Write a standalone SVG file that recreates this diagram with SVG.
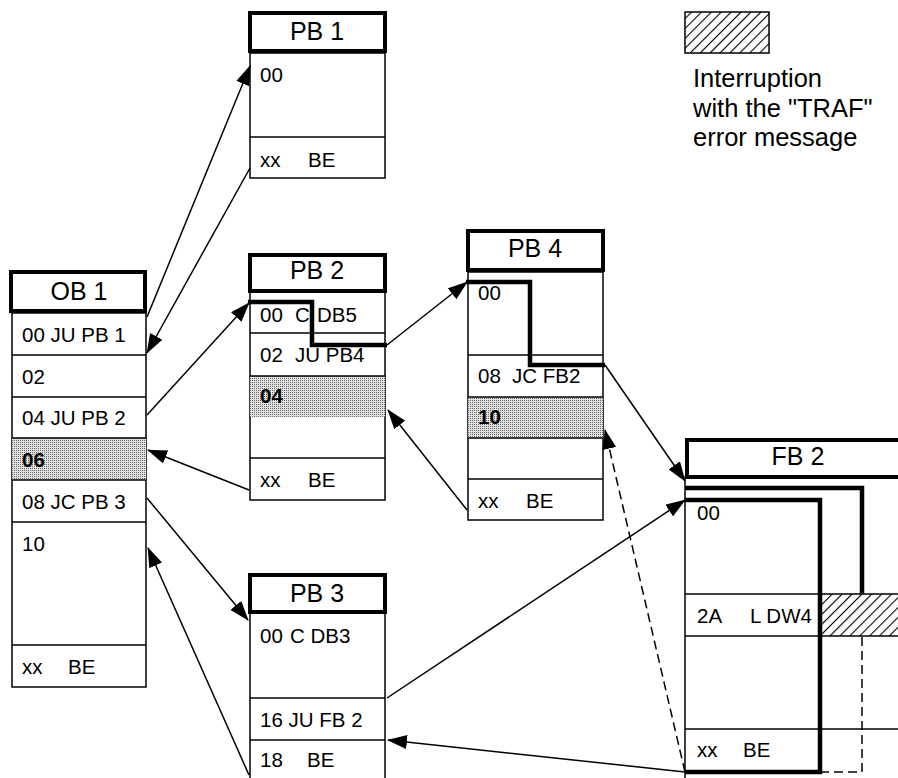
<svg xmlns="http://www.w3.org/2000/svg" width="898" height="778" viewBox="0 0 898 778">
<style>
.hdr{fill:#fff;stroke:#000;stroke-width:4}
.body{fill:#fff;stroke:#000;stroke-width:1.5}
.row{stroke:#000;stroke-width:1.5}
.thick{fill:none;stroke:#000;stroke-width:4.5;stroke-linejoin:miter}
.con{fill:none;stroke:#000;stroke-width:1.5}
.dash{stroke-dasharray:9 5}
text{font-family:"Liberation Sans",Arial,sans-serif;fill:#000}
.t{font-size:20.5px}
.h{font-size:25px;text-anchor:middle}
.b{font-weight:bold}
.lg{font-size:25.5px}
</style>
<defs>
<pattern id="dots" width="2" height="2" patternUnits="userSpaceOnUse">
<rect width="2" height="2" fill="#e0e0e0"/>
<rect width="1" height="1" fill="#6a6a6a"/>
</pattern>
<pattern id="hatch" width="7" height="7" patternUnits="userSpaceOnUse" patternTransform="rotate(45)">
<rect width="7" height="7" fill="#fff"/>
<line x1="0" y1="0" x2="0" y2="7" stroke="#000" stroke-width="2.2"/>
</pattern>
<marker id="ah" viewBox="0 0 20 14" markerWidth="20" markerHeight="14" refX="19" refY="7" orient="auto" markerUnits="userSpaceOnUse">
<path d="M0,0 L20,7 L0,14 z" fill="#000"/>
</marker>
</defs>

<g id="legend">
<rect x="685" y="12" width="84" height="41" fill="url(#hatch)" stroke="#000" stroke-width="1.5"/>
<text class="lg" x="693" y="87">Interruption</text>
<text class="lg" x="693" y="117">with the "TRAF"</text>
<text class="lg" x="693" y="146">error message</text>
</g>

<g id="OB1">
<rect class="body" x="12" y="313" width="134" height="374"/>
<rect x="12" y="438" width="134" height="42" fill="url(#dots)"/>
<line class="row" x1="12" y1="355" x2="146" y2="355"/>
<line class="row" x1="12" y1="397" x2="146" y2="397"/>
<line class="row" x1="12" y1="438" x2="146" y2="438"/>
<line class="row" x1="12" y1="480" x2="146" y2="480"/>
<line class="row" x1="12" y1="522" x2="146" y2="522"/>
<line class="row" x1="12" y1="645" x2="146" y2="645"/>
<rect class="hdr" x="11" y="272" width="134" height="39"/>
<text class="h" x="79" y="300">OB 1</text>
<text class="t" x="22" y="342">00 JU PB 1</text>
<text class="t" x="22" y="384">02</text>
<text class="t" x="22" y="425">04 JU PB 2</text>
<text class="t b" x="22" y="467">06</text>
<text class="t" x="22" y="509">08 JC PB 3</text>
<text class="t" x="22" y="551">10</text>
<text class="t" x="22" y="674">xx</text>
<text class="t" x="68" y="674">BE</text>
</g>

<g id="PB1">
<rect class="body" x="250" y="53" width="135" height="125"/>
<line class="row" x1="250" y1="137" x2="385" y2="137"/>
<rect class="hdr" x="250" y="13" width="135" height="38"/>
<text class="h" x="317" y="40">PB 1</text>
<text class="t" x="260" y="82">00</text>
<text class="t" x="260" y="167">xx</text>
<text class="t" x="308" y="167">BE</text>
</g>

<g id="PB2">
<rect class="body" x="250" y="292" width="135" height="208"/>
<rect x="250" y="376" width="135" height="41" fill="url(#dots)"/>
<line class="row" x1="250" y1="333" x2="385" y2="333"/>
<line class="row" x1="250" y1="376" x2="385" y2="376"/>
<line class="row" x1="250" y1="458" x2="385" y2="458"/>
<rect class="hdr" x="250" y="255" width="135" height="36"/>
<text class="h" x="317" y="279">PB 2</text>
<text class="t" x="260" y="322">00</text>
<text class="t" x="295" y="322">C</text>
<text class="t" x="317" y="322">DB5</text>
<text class="t" x="260" y="362">02</text>
<text class="t" x="295" y="362">JU PB4</text>
<text class="t b" x="260" y="403">04</text>
<text class="t" x="260" y="487">xx</text>
<text class="t" x="308" y="487">BE</text>
<path class="thick" d="M248,302 H312 V345 H387"/>
</g>

<g id="PB4">
<rect class="body" x="468" y="272" width="135" height="248"/>
<rect x="468" y="397" width="135" height="41" fill="url(#dots)"/>
<line class="row" x1="468" y1="355" x2="603" y2="355"/>
<line class="row" x1="468" y1="397" x2="603" y2="397"/>
<line class="row" x1="468" y1="438" x2="603" y2="438"/>
<line class="row" x1="468" y1="479" x2="603" y2="479"/>
<rect class="hdr" x="468" y="231" width="135" height="39"/>
<text class="h" x="535" y="257">PB 4</text>
<text class="t" x="478" y="300">00</text>
<text class="t" x="478" y="383">08</text>
<text class="t" x="512" y="383">JC FB2</text>
<text class="t b" x="478" y="424">10</text>
<text class="t" x="478" y="508">xx</text>
<text class="t" x="526" y="508">BE</text>
<path class="thick" d="M466,282 H530 V365 H605"/>
</g>

<g id="PB3">
<rect class="body" x="250" y="613" width="135" height="175"/>
<line class="row" x1="250" y1="698" x2="385" y2="698"/>
<line class="row" x1="250" y1="740" x2="385" y2="740"/>
<rect class="hdr" x="250" y="575" width="135" height="37"/>
<text class="h" x="317" y="602">PB 3</text>
<text class="t" x="260" y="643">00</text>
<text class="t" x="290" y="643">C DB3</text>
<text class="t" x="260" y="727">16 JU FB 2</text>
<text class="t" x="260" y="767">18</text>
<text class="t" x="307" y="767">BE</text>
</g>

<g id="FB2">
<rect class="body" x="685" y="477" width="230" height="320"/>
<rect x="820" y="594" width="80" height="42" fill="url(#hatch)"/>
<line class="row" x1="685" y1="594" x2="898" y2="594"/>
<line class="row" x1="685" y1="636" x2="898" y2="636"/>
<line class="row" x1="685" y1="729" x2="898" y2="729"/>
<rect class="hdr" x="687" y="440" width="230" height="37"/>
<text class="h" x="798" y="465">FB 2</text>
<text class="t" x="697" y="520">00</text>
<text class="t" x="697" y="623">2A</text>
<text class="t" x="750" y="623">L DW4</text>
<text class="t" x="697" y="757">xx</text>
<text class="t" x="743" y="757">BE</text>
<path class="thick" d="M685,488 H862 V594"/>
<path class="thick" d="M685,500 H820 V772 H685"/>
<path class="con dash" d="M820,772 H862 V636"/>
</g>

<g id="connectors">
<line class="con" x1="147" y1="317" x2="250" y2="66" marker-end="url(#ah)"/>
<line class="con" x1="250" y1="168" x2="147" y2="353" marker-end="url(#ah)"/>
<line class="con" x1="147" y1="415" x2="249" y2="303" marker-end="url(#ah)"/>
<line class="con" x1="249" y1="490" x2="148" y2="450" marker-end="url(#ah)"/>
<line class="con" x1="147" y1="498" x2="248" y2="620" marker-end="url(#ah)"/>
<line class="con" x1="249" y1="775" x2="148" y2="548" marker-end="url(#ah)"/>
<line class="con" x1="387" y1="345" x2="467" y2="282" marker-end="url(#ah)"/>
<line class="con" x1="467" y1="510" x2="388" y2="410" marker-end="url(#ah)"/>
<line class="con" x1="605" y1="365" x2="685" y2="481" marker-end="url(#ah)"/>
<line class="con" x1="387" y1="698" x2="685" y2="500" marker-end="url(#ah)"/>
<line class="con" x1="685" y1="772" x2="388" y2="740" marker-end="url(#ah)"/>
<line class="con dash" x1="685" y1="772" x2="605" y2="430" marker-end="url(#ah)"/>
</g>
</svg>
